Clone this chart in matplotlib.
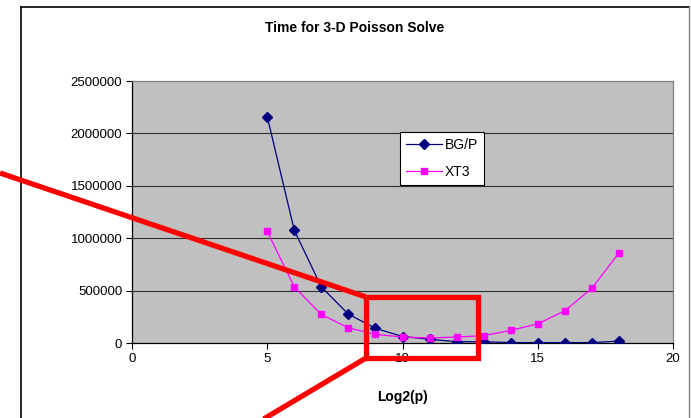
import matplotlib
matplotlib.use("Agg")
import matplotlib.pyplot as plt
from matplotlib.lines import Line2D

plt.rcParams['font.family'] = ['Liberation Sans', 'DejaVu Sans']

# data
log2p = [5, 6, 7, 8, 9, 10, 11, 12, 13, 14, 15, 16, 17, 18]
bgp = [2160000, 1075000, 535000, 275000, 140000, 62000, 36000, 12000,
       12000, 4000, 4000, 4000, 4000, 18000]
xt3 = [1065000, 535000, 272000, 145000, 82000, 57000, 48000, 57000,
       70000, 120000, 183000, 307000, 522000, 860000]
yticks = [0, 500000, 1000000, 1500000, 2000000, 2500000]
xticks = [0, 5, 10, 15, 20]

W, H = 691, 418
fig = plt.figure(figsize=(W / 100, H / 100), dpi=100)

def fx(px):
    return px / W

def fy(py):
    return 1 - py / H

# outer chart frame
fig.add_artist(Line2D([fx(21), fx(21)], [fy(7), fy(420)], color='black', lw=1.2))
fig.add_artist(Line2D([fx(21), fx(689)], [fy(7), fy(7)], color='black', lw=1.2))
fig.add_artist(Line2D([fx(689), fx(689)], [fy(7), fy(420)], color='#808080', lw=1))

ax = fig.add_axes([fx(132), fy(343), fx(673) - fx(132), fy(81) - fy(343)])
ax.set_facecolor('#C0C0C0')
for y in yticks[1:-1]:
    ax.axhline(y, color='#303030', lw=0.8, zorder=1)

ax.plot(log2p, bgp, color='#000080', lw=0.9, marker='D', ms=5,
        mfc='#000080', mec='#000080', label='BG/P', zorder=3)
ax.plot(log2p, xt3, color='#FF00FF', lw=0.9, marker='s', ms=5,
        mfc='#FF00FF', mec='#FF00FF', label='XT3', zorder=3)

ax.set_xlim(0, 20)
ax.set_ylim(0, 2500000)
ax.set_xticks(xticks)
ax.set_yticks(yticks)
ax.set_yticklabels([str(v) for v in yticks])
ax.tick_params(direction='out', length=4, width=0.8, labelsize=9.5, pad=3)
ax.spines['left'].set_color('black')
ax.spines['bottom'].set_color('black')
ax.spines['top'].set_color('#808080')
ax.spines['right'].set_color('#808080')
for s in ax.spines.values():
    s.set_linewidth(0.9)

ax.set_xlabel('Log2(p)', fontsize=10, fontweight='bold', labelpad=18)
fig.text(fx(355), fy(28), 'Time for 3-D Poisson Solve', ha='center', va='center',
         fontsize=10, fontweight='bold')

leg = ax.legend(loc='upper left', bbox_to_anchor=((400 - 132) / 541, 1 - (132 - 81) / 262),
                bbox_transform=ax.transAxes, frameon=True, fancybox=False,
                edgecolor='black', facecolor='white', framealpha=1,
                fontsize=10, handlelength=2.6, borderpad=0.45, labelspacing=0.9,
                handletextpad=0.15, borderaxespad=0)
leg.get_frame().set_linewidth(0.8)

# red highlight overlay
red = dict(color='#FF0000', lw=3.8, solid_capstyle='butt', solid_joinstyle='miter')
fig.add_artist(Line2D([fx(0), fx(366)], [fy(173), fy(297)], **red))
fig.add_artist(Line2D([fx(366), fx(478), fx(478), fx(366), fx(366)],
                      [fy(297), fy(297), fy(358), fy(358), fy(297)], **red))
fig.add_artist(Line2D([fx(366), fx(262)], [fy(358), fy(420)], **red))

fig.savefig('out.png', dpi=100)
